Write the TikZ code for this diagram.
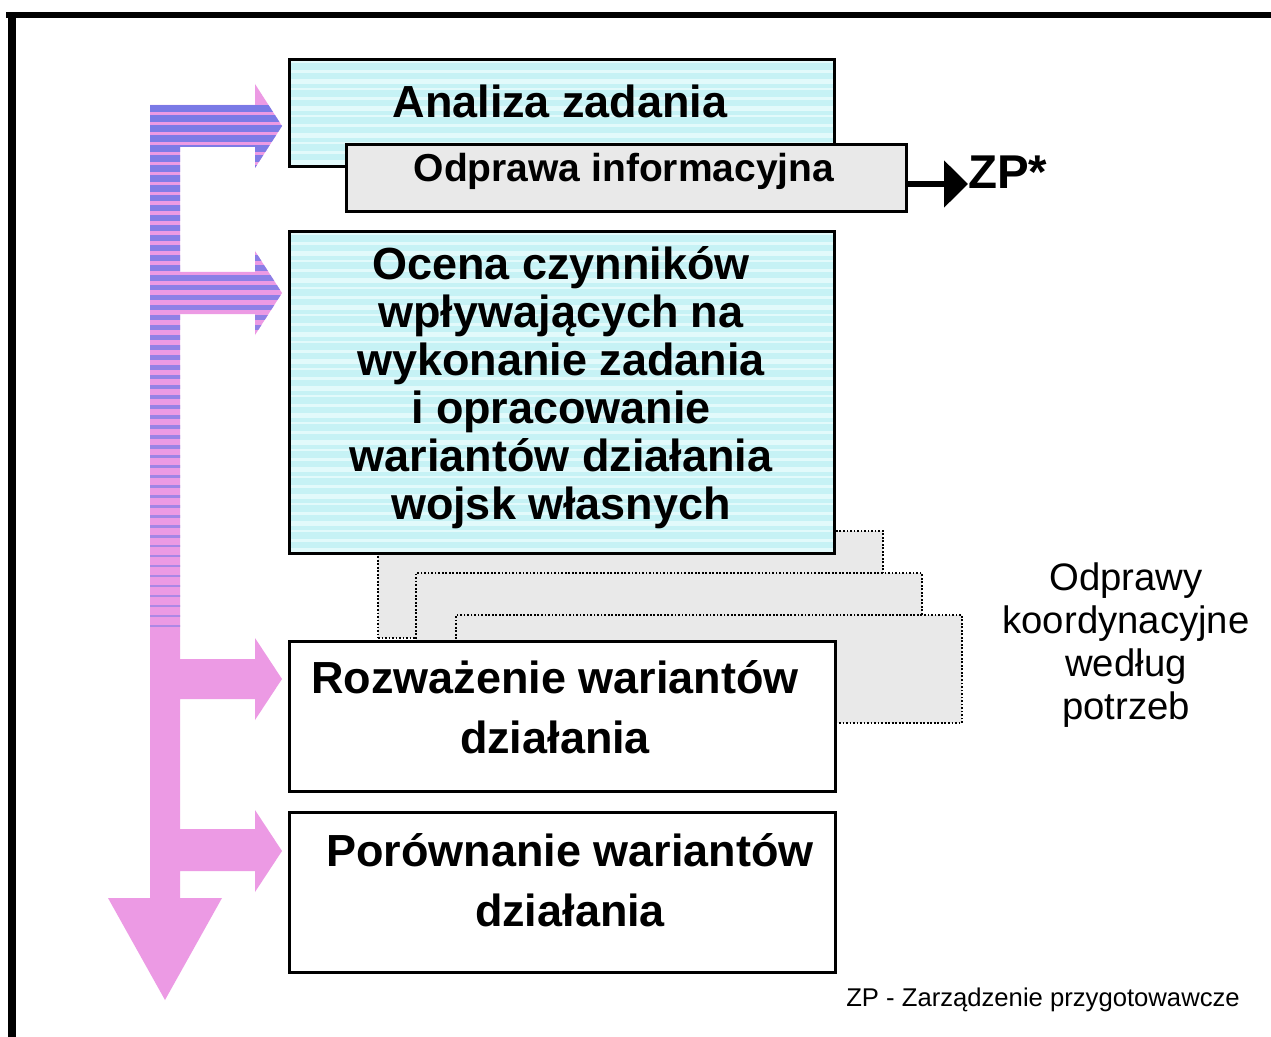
\documentclass[tikz,border=0pt]{standalone}
\usepackage{fontspec}
\setmainfont{Liberation Sans}
\usetikzlibrary{calc,arrows.meta}

\definecolor{arrblue}{RGB}{122,122,230}
\definecolor{arrpink}{RGB}{236,154,228}
\definecolor{cyanbg}{RGB}{198,242,245}
\definecolor{cyanline}{RGB}{226,250,251}
\definecolor{dotgrey}{RGB}{233,233,233}

\tikzset{
  mainbox/.style={draw=black, line width=1.5pt, rectangle, inner sep=0pt, anchor=north west},
  cyanbox/.style={mainbox, fill=cyanbg,
    path picture={
      \foreach \s in {0,...,40}{
        \pgfmathsetmacro\sh{0.04+0.03*mod(\s,3)}
        \fill[cyanline] ($(path picture bounding box.north west)+(0,{-\s*0.18cm-0.03cm})$)
          rectangle ++(12cm,{-\sh cm});
      }
    }},
  greybox/.style={mainbox, fill=dotgrey},
  whitebox/.style={mainbox, fill=white},
  dotbox/.style={draw=black, line width=1.2pt, dash pattern=on 1pt off 1pt,
    fill=dotgrey, rectangle, inner sep=0pt, anchor=north west},
  bigtxt/.style={font=\bfseries\fontsize{25.6}{27.3}\selectfont, align=center, inner sep=0pt},
  widetxt/.style={font=\bfseries\fontsize{25.6}{34.1}\selectfont, align=center, inner sep=0pt},
  midtxt/.style={font=\bfseries\fontsize{22.2}{24}\selectfont, inner sep=0pt},
  zptxt/.style={font=\bfseries\fontsize{27}{30}\selectfont, inner sep=0pt},
  regtxt/.style={font=\fontsize{21.8}{24.5}\selectfont, align=center, inner sep=0pt},
  smalltxt/.style={font=\fontsize{14.6}{16}\selectfont, inner sep=0pt},
}

\begin{document}
\begin{tikzpicture}[x=0.02cm,y=-0.02cm]
\useasboundingbox (0,0) rectangle (1271,1037);
\fill[white] (0,0) rectangle (1271,1037);

% page frame (top and left edges)
\draw[line width=3.4pt] (6,15) -- (1271,15);
\draw[line width=4pt] (12,13) -- (12,1037);

% flow arrow with four branches, striped blue fading into pink
\begin{scope}
  \clip (150,105) -- (255,105) -- (255,84) -- (282,126) -- (255,168) -- (255,147)
    -- (180,147) -- (180,272) -- (255,272) -- (255,251) -- (282,293) -- (255,335)
    -- (255,314) -- (180,314) -- (180,659) -- (255,659) -- (255,638) -- (282,679)
    -- (255,720) -- (255,699) -- (180,699) -- (180,829) -- (255,829) -- (255,810)
    -- (282,851) -- (255,892) -- (255,871) -- (180,871) -- (180,898) -- (222,898)
    -- (165,1000) -- (108,898) -- (150,898) -- cycle;
  \fill[arrpink] (100,80) rectangle (300,1010);
  \foreach \k in {0,...,52}{
    \pgfmathsetmacro\yy{105+10*\k}
    \pgfmathsetmacro\hh{7.5-6*\k/52}
    \pgfmathtruncatemacro\pp{100-45*\k/52}
    \fill[arrblue!\pp!arrpink] (100,\yy) rectangle (300,{\yy+\hh});
  }
\end{scope}

% coordination briefings (stacked dotted sheets)
\node[dotbox, minimum width=10.1cm, minimum height=2.14cm] (coord1) at (377,530) {};
\node[dotbox, minimum width=10.12cm, minimum height=2.1cm] (coord2) at (415,572) {};
\node[dotbox, minimum width=10.12cm, minimum height=2.16cm] (coord3) at (455,614) {};

% process steps
\node[cyanbox, minimum width=10.9cm, minimum height=2.14cm] (analiza) at (288,58) {};
\node[greybox, minimum width=11.2cm, minimum height=1.34cm] (odprawa) at (345,143) {};
\node[cyanbox, minimum width=10.9cm, minimum height=6.44cm] (ocena) at (288,230) {};
\node[whitebox, minimum width=10.92cm, minimum height=3.0cm] (rozw) at (288,640) {};
\node[whitebox, minimum width=10.92cm, minimum height=3.2cm] (porown) at (288,811) {};

% labels
\node[bigtxt] (analiza-t) at (560,101) {Analiza zadania};
\node[midtxt] (odprawa-t) at (624,171) {Odprawa informacyjna};
\node[bigtxt] (ocena-t) at (561,388) {Ocena czynników\\wpływających na\\wykonanie zadania\\i opracowanie\\wariantów działania\\wojsk własnych};
\node[widetxt] (rozw-t) at (555,707) {Rozważenie wariantów\\działania};
\node[widetxt] (porown-t) at (570,880) {Porównanie wariantów\\działania};

% preparatory order output
\node[zptxt, anchor=west] (zp) at (968,172) {ZP*};
\coordinate (zpy) at (0,184);
\draw[line width=3.4pt, -{Triangle[length=13.6pt,width=26pt]}]
  (odprawa.east |- zpy) -- (zp.west |- zpy);

\node[regtxt] (koord) at (1126,645) {Odprawy\\koordynacyjne\\według\\potrzeb};
\node[smalltxt] (legend) at (1043,1000) {ZP - Zarządzenie przygotowawcze};
\end{tikzpicture}
\end{document}
